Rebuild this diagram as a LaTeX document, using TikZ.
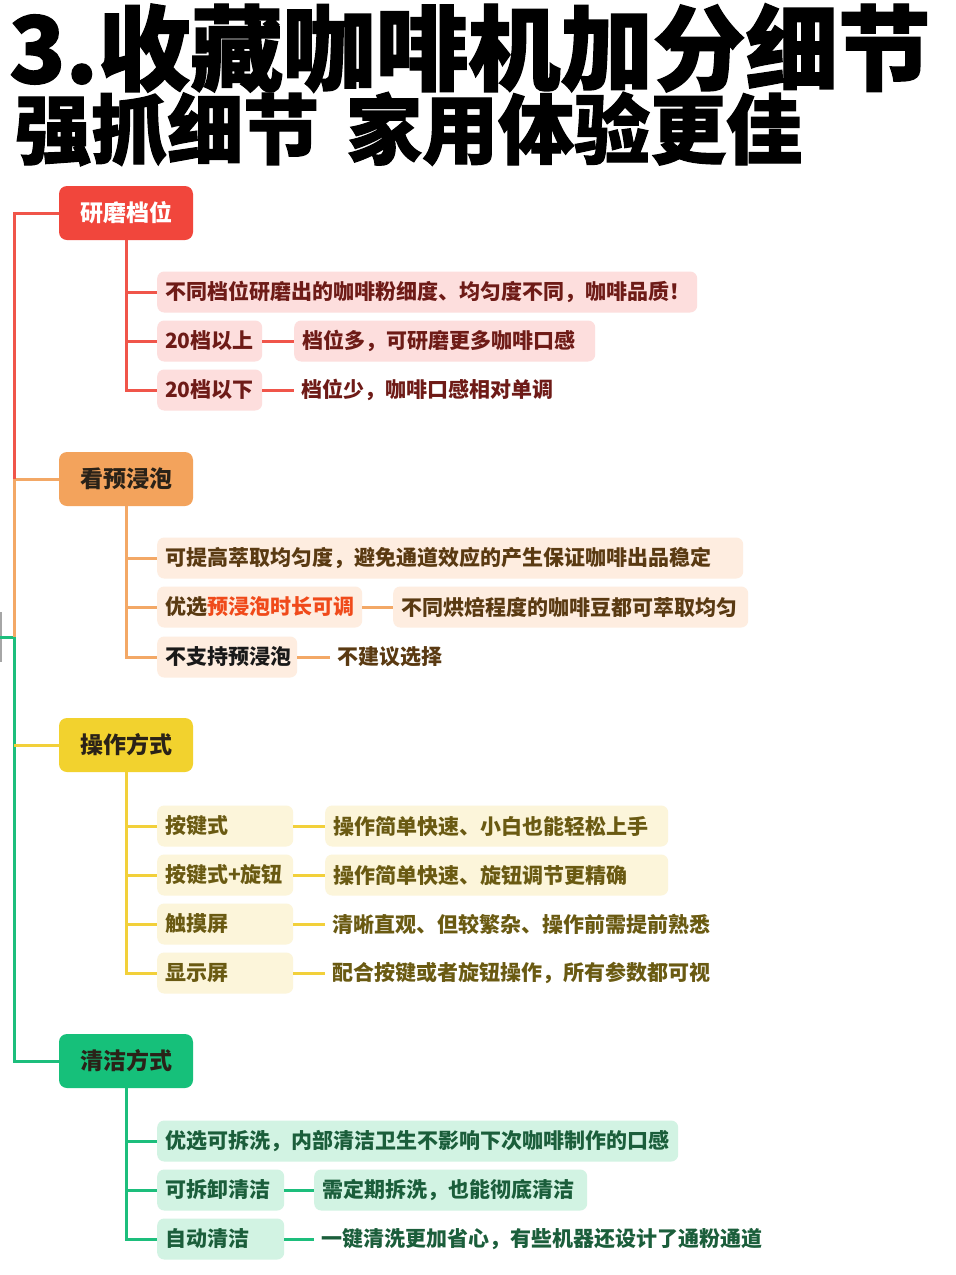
\documentclass[tikz,border=0pt]{standalone}
\usepackage{fontspec}
\newfontfamily\cjk{Noto Sans CJK SC}
\newfontfamily\cjkheavy[BoldFeatures={FakeBold=1.5}]{Noto Sans CJK SC}
\definecolor{rA}{HTML}{F1463C}\definecolor{rL}{HTML}{F0554A}\definecolor{rF}{HTML}{FDDEDD}\definecolor{rT}{HTML}{6E1B17}
\definecolor{oA}{HTML}{F3A35C}\definecolor{oL}{HTML}{F3A866}\definecolor{oF}{HTML}{FEEDE0}\definecolor{oT}{HTML}{5A3A12}\definecolor{oH}{HTML}{F04A1A}
\definecolor{yA}{HTML}{F2D22E}\definecolor{yL}{HTML}{F2D03A}\definecolor{yF}{HTML}{FCF5DA}\definecolor{yT}{HTML}{6A5A12}
\definecolor{gA}{HTML}{16C07A}\definecolor{gL}{HTML}{1DBE7C}\definecolor{gF}{HTML}{D2F3E3}\definecolor{gT}{HTML}{1B5E3B}
\definecolor{catT}{HTML}{2A2218}
\tikzset{
  cat/.style={rounded corners=8pt, minimum width=134pt, minimum height=54pt, inner sep=0pt, font=\cjk\bfseries\fontsize{23}{26}\selectfont},
  leaf/.style={rounded corners=7pt, minimum height=41pt, inner xsep=8pt, inner ysep=0pt, anchor=west, align=left, font=\cjk\bfseries\fontsize{21}{24}\selectfont},
  plain/.style={inner xsep=7pt, inner ysep=0pt, anchor=west, font=\cjk\bfseries\fontsize{21}{24}\selectfont},
  conn/.style={line width=3pt},
  titlefont/.style={inner sep=0pt, anchor=west, font=\cjkheavy\bfseries}
}
\begin{document}
\begin{tikzpicture}[x=1pt,y=-1pt]
\useasboundingbox[fill=white] (0,0) rectangle (956,1275);
% title
\node[titlefont] (t1) at (9,48) {\fontsize{92.5}{100}\selectfont 3.收藏咖啡机加分细节};
\node[titlefont] (t2) at (15,129) {\fontsize{76}{84}\selectfont 强抓细节\hspace{27pt}家用体验更佳};

% categories
\node[cat, fill=rA, text=white] (c1) at (126,213) {研磨档位};
\node[cat, fill=oA, text=catT] (c2) at (126,479) {看预浸泡};
\node[cat, fill=yA, text=catT] (c3) at (126,745) {操作方式};
\node[cat, fill=gA, text=catT] (c4) at (126,1061) {清洁方式};

% spine coordinates
\coordinate (s2) at (14,479);
\coordinate (s3) at (14,637);
\coordinate (s0) at (0,637);
\coordinate (gy1) at (1,612);
\coordinate (gy2) at (1,662);
\draw[line width=1.5pt, gray!70] (gy1) -- (gy2);
\draw[conn, gL] (s0) -- (s3) |- (c4.west);
\draw[conn, oL] (c2.west) -| (s3);
\draw[conn, rL] (c1.west) -| (s2);
\draw[conn, yL] (c3.west) -- (c3.west -| s3);

% red group
\node[leaf, fill=rF, text=rT, text width=524pt] (r1) at (157,292) {不同档位研磨出的咖啡粉细度、均匀度不同，咖啡品质！};
\node[leaf, fill=rF, text=rT, text width=89pt] (r2) at (157,341) {20档以上};
\node[leaf, fill=rF, text=rT, text width=285pt] (r2b) at (294,341) {档位多，可研磨更多咖啡口感};
\node[leaf, fill=rF, text=rT, text width=89pt] (r3) at (157,390) {20档以下};
\node[plain, text=rT] (r3b) at (294,390) {档位少，咖啡口感相对单调};
\foreach \n in {r1,r2,r3} \draw[conn, rL] (c1.south) |- (\n.west);
\draw[conn, rL] (r2.east) -- (r2b.west);
\draw[conn, rL] (r3.east) -- (r3b.west);

% orange group
\node[leaf, fill=oF, text=oT, text width=570pt] (o1) at (157,558) {可提高萃取均匀度，避免通道效应的产生保证咖啡出品稳定};
\node[leaf, fill=oF, text=oT, text width=189pt] (o2) at (157,607) {优选\textcolor{oH}{预浸泡时长可调}};
\node[leaf, fill=oF, text=oT, text width=339pt] (o2b) at (393,607) {不同烘焙程度的咖啡豆都可萃取均匀};
\node[leaf, fill=oF, text=black!90, text width=124pt] (o3) at (157,657) {不支持预浸泡};
\node[plain, text=oT] (o3b) at (330,657) {不建议选择};
\foreach \n in {o1,o2,o3} \draw[conn, oL] (c2.south) |- (\n.west);
\draw[conn, oL] (o2.east) -- (o2b.west);
\draw[conn, oL] (o3.east) -- (o3b.west);

% yellow group
\node[leaf, fill=yF, text=yT, text width=120pt] (y1) at (157,826) {按键式};
\node[leaf, fill=yF, text=yT, text width=327pt] (y1b) at (325,826) {操作简单快速、小白也能轻松上手};
\node[leaf, fill=yF, text=yT, text width=120pt] (y2) at (157,875) {按键式+旋钮};
\node[leaf, fill=yF, text=yT, text width=327pt] (y2b) at (325,875) {操作简单快速、旋钮调节更精确};
\node[leaf, fill=yF, text=yT, text width=120pt] (y3) at (157,924) {触摸屏};
\node[plain, text=yT] (y3b) at (325,924) {清晰直观、但较繁杂、操作前需提前熟悉};
\node[leaf, fill=yF, text=yT, text width=120pt] (y4) at (157,973) {显示屏};
\node[plain, text=yT] (y4b) at (325,973) {配合按键或者旋钮操作，所有参数都可视};
\foreach \n in {y1,y2,y3,y4} \draw[conn, yL] (c3.south) |- (\n.west);
\draw[conn, yL] (y1.east) -- (y1b.west);
\draw[conn, yL] (y2.east) -- (y2b.west);
\draw[conn, yL] (y3.east) -- (y3b.west);
\draw[conn, yL] (y4.east) -- (y4b.west);

% green group
\node[leaf, fill=gF, text=gT, text width=505pt] (g1) at (157,1141) {优选可拆洗，内部清洁卫生不影响下次咖啡制作的口感};
\node[leaf, fill=gF, text=gT, text width=111pt] (g2) at (157,1190) {可拆卸清洁};
\node[leaf, fill=gF, text=gT, text width=257pt] (g2b) at (314,1190) {需定期拆洗，也能彻底清洁};
\node[leaf, fill=gF, text=gT, text width=111pt] (g3) at (157,1239) {自动清洁};
\node[plain, text=gT] (g3b) at (314,1239) {一键清洗更加省心，有些机器还设计了通粉通道};
\foreach \n in {g1,g2,g3} \draw[conn, gL] (c4.south) |- (\n.west);
\draw[conn, gL] (g2.east) -- (g2b.west);
\draw[conn, gL] (g3.east) -- (g3b.west);
\end{tikzpicture}
\end{document}
